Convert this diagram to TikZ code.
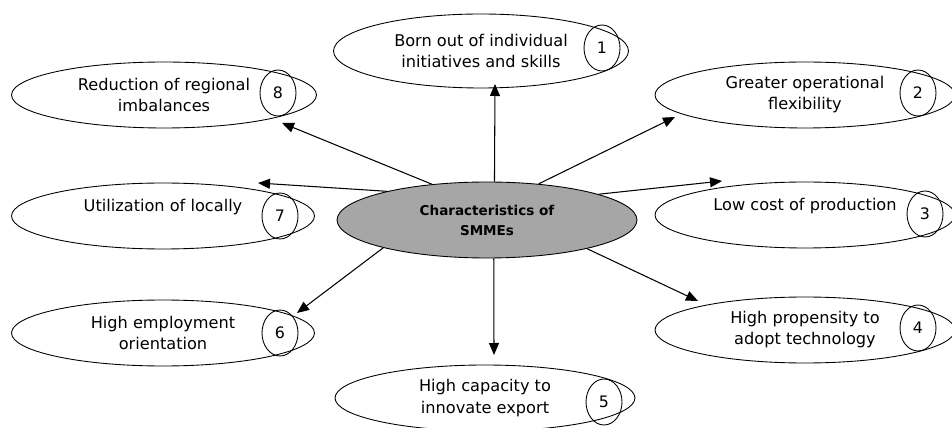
\documentclass[tikz,border=0pt]{standalone}
\usepackage{fontspec}
\setmainfont{DejaVu Sans}
\usepackage{xcolor}
\usetikzlibrary{shapes.geometric, arrows.meta}

\definecolor{hubgray}{RGB}{166,166,166}

\begin{document}
\begin{tikzpicture}[x=0.02cm, y=-0.02cm,
  item/.style={ellipse, draw, line width=0.5pt, inner sep=0pt, minimum width=6cm, minimum height=1.32cm, align=center, font=\fontsize{9.2}{12}\selectfont},
  num/.style={ellipse, draw, line width=0.5pt, inner sep=0pt, minimum width=0.72cm, minimum height=0.92cm, font=\fontsize{9}{11}\selectfont},
  link/.style={-{Triangle[length=2.4mm,width=2mm]}, line width=0.6pt}]
  \useasboundingbox (0,0) rectangle (952,428);
  \clip (0,0) rectangle (952,428);

  % centre
  \node[ellipse, draw, fill=hubgray, line width=0.5pt, inner sep=0pt, minimum width=6cm, minimum height=1.52cm, align=center, font=\bfseries\fontsize{7.7}{11.4}\selectfont] (hub) at (487,220) {Characteristics of\\SMMEs};

  % characteristics
  \node[item, minimum width=5.9cm, minimum height=1.48cm] (e1) at (481,51) {Born out of individual\\initiatives and skills};
  \node[item] (e2) at (805,95) {Greater operational\\flexibility};
  \node[item] (e3) at (805,215) {Low cost of production\\\mbox{}};
  \node[item] (e4) at (805,330) {High propensity to\\adopt technology};
  \node[item] (e5) at (485,398) {High capacity to\\innovate export};
  \node[item, minimum width=6.06cm] (e6) at (163,333) {High employment\\orientation};
  \node[item, minimum width=6.06cm] (e7) at (163,216) {Utilization of locally\\\mbox{}};
  \node[item, minimum width=6.1cm] (e8) at (164,95) {Reduction of regional\\imbalances};

  % numbers
  \node[num] (n1) at (602,48) {1};
  \node[num] (n2) at (918,93) {2};
  \node[num] (n3) at (925,214) {3};
  \node[num] (n4) at (918,328) {4};
  \node[num] (n5) at (604,402) {5};
  \node[num] (n6) at (280,333) {6};
  \node[num] (n7) at (280,216) {7};
  \node[num] (n8) at (278,93) {8};

  % arrow ends
  \coordinate (tip1) at (495,84);
  \coordinate (tip2) at (675,117);
  \coordinate (tip3) at (722,181);
  \coordinate (tip4) at (698,301);
  \coordinate (tip5) at (494,355);
  \coordinate (tip6) at (297,313);
  \coordinate (tip7) at (258,183);
  \coordinate (tip8) at (282,123);

  \draw[link] (hub.79) -- (tip1);
  \draw[link] (hub.35.5) -- (tip2);
  \draw[link] (hub.13.6) -- (tip3);
  \draw[link] (hub.-16.9) -- (tip4);
  \draw[link] (hub.-80.5) -- (tip5);
  \draw[link] (hub.195.4) -- (tip6);
  \draw[link] (hub.164.1) -- (tip7);
  \draw[link] (hub.147.7) -- (tip8);
\end{tikzpicture}
\end{document}
